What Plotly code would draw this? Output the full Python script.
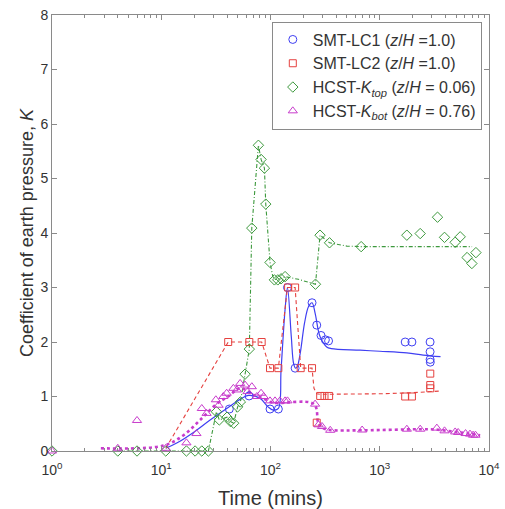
import plotly.graph_objects as go

# ---- measured points ----
# SMT-LC1 (z/H = 1.0)
lc1_t = [42, 63.7, 99, 118, 143, 168, 240, 265, 290, 318, 340, 1710, 1970, 2890, 2890, 2890, 2900]
lc1_k = [0.77, 1.01, 0.77, 0.77, 3.0, 1.52, 2.72, 2.31, 2.12, 2.04, 2.02, 2.0, 2.0, 2.0, 1.82, 1.68, 1.63]

# SMT-LC2 (z/H = 1.0)
lc2_t = [41, 64, 83, 99, 118, 145, 168, 189, 240, 265, 285, 312, 344, 1710, 1970, 2900, 2900, 2900]
lc2_k = [2.0, 2.0, 2.0, 1.52, 1.52, 3.0, 3.0, 1.52, 1.52, 0.52, 1.01, 1.01, 1.01, 1.0, 1.0, 1.42, 1.21, 1.15]

# HCST K_top (z/H = 0.06)
top_t = [1, 4, 6, 11, 17, 20.4, 23.5, 27, 32, 34, 40, 43, 46, 50, 53, 58.5, 64, 67.4, 77.5, 82, 88,
         90.5, 99, 108.6, 116.6, 125, 136, 258, 284, 347, 676, 1770, 2345, 3380, 3915, 4900, 5450,
         6300, 6970, 7590]
top_k = [0, 0, 0, 0, 0, 0, 0, 0, 0.72, 0.57, 0.62, 0.54, 0.51, 0.81, 0.9, 1.41, 1.87, 4.09, 5.61, 5.35, 5.19,
         4.53, 3.46, 3.14, 3.14, 3.16, 3.2, 3.06, 3.96, 3.82, 3.75, 3.96, 3.99, 4.29, 3.92, 3.83, 3.93,
         3.55, 3.44, 3.64]

# HCST K_bot (z/H = 0.76)
bot_t = [1, 4, 6, 11, 17, 21, 23.5, 26, 31.6, 33.5, 37, 39.7, 45.7, 49.3, 52.7, 58.5, 61.6, 67.5, 75, 82,
         86.6, 99, 110, 122, 136, 143, 256, 275, 296, 352, 690, 1770, 2345, 3330, 3915, 4900, 5220, 6100,
         6700, 7150, 7520]
bot_k = [0, 0.05, 0.56, 0.05, 0.15, 0.32, 0.78, 0.69, 0.94, 0.84, 1.0, 1.06, 1.15, 1.12, 1.24, 1.21, 1.09,
         1.18, 1.0, 1.06, 1.0, 0.92, 0.92, 0.92, 0.92, 0.92, 0.86, 0.48, 0.45, 0.38, 0.385, 0.4, 0.4, 0.42,
         0.37, 0.35, 0.34, 0.32, 0.31, 0.29, 0.29]

# ---- trend lines ----
lc1_fit_t = [11, 14, 20, 28, 41, 55, 63, 80, 95, 106, 118, 125, 136, 143, 155, 163, 170, 176, 187, 205,
             223, 240, 256, 284, 327, 360, 660, 1000, 1770, 2500, 3600]
lc1_fit_k = [0.05, 0.15, 0.35, 0.57, 0.8, 0.97, 1.02, 0.97, 0.81, 0.75, 0.78, 1.5, 2.6, 3.0, 2.1, 1.6, 1.52,
             1.55, 1.79, 2.35, 2.65, 2.72, 2.53, 2.1, 1.91, 1.88, 1.85, 1.83, 1.8, 1.76, 1.73]

lc2_fit_t = [11, 41, 64, 83, 99, 118, 143, 168, 189, 240, 250, 265, 285, 400, 1000, 2000, 3600]
lc2_fit_k = [0.05, 2.0, 2.0, 2.0, 1.52, 1.52, 3.0, 3.0, 1.52, 1.52, 1.15, 1.05, 1.04, 1.04, 1.05, 1.07, 1.1]

top_fit_t = [4, 27, 32, 34, 40, 43, 46, 50, 53, 58.5, 64, 67.4, 77.5, 82, 88, 90.5, 99, 105, 110, 125,
             136, 180, 258, 284, 347, 500, 676, 7000]
top_fit_k = [0, 0, 0.72, 0.57, 0.62, 0.54, 0.51, 0.81, 0.9, 1.41, 1.87, 4.09, 5.61, 5.35, 5.19, 4.53, 3.46,
             3.2, 3.15, 3.16, 3.2, 3.15, 3.06, 3.96, 3.82, 3.76, 3.75, 3.75]

bot_fit_t = [2.8, 10.5, 16, 22.7, 32.4, 41, 52, 60, 70, 85, 100, 114, 250, 275, 303, 350, 700, 2700, 3400,
             5000, 8300]
bot_fit_k = [0.05, 0.1, 0.29, 0.57, 0.87, 1.0, 1.15, 1.12, 1.03, 0.97, 0.9, 0.88, 0.86, 0.5, 0.42, 0.385,
             0.38, 0.4, 0.39, 0.35, 0.29]

x_tickvals = [1, 10, 100, 1000, 10000]
x_ticktext = ["10<sup>0</sup>", "10<sup>1</sup>", "10<sup>2</sup>", "10<sup>3</sup>", "10<sup>4</sup>"]
y_tickvals = [0, 1, 2, 3, 4, 5, 6, 7, 8]

BLUE = "#3f3ff2"
RED = "#e5413f"
GREEN = "#3d993d"
MAG = "#c83ccc"
FONT = "Liberation Sans, Arial, sans-serif"
AXC = "#8a8a8a"
TXT = "#333333"

fig = go.Figure()

# trend lines (not in legend)
fig.add_trace(go.Scatter(x=lc1_fit_t, y=lc1_fit_k, mode="lines", showlegend=False,
                         line=dict(color=BLUE, width=1.2), line_shape="spline"))
fig.add_trace(go.Scatter(x=lc2_fit_t, y=lc2_fit_k, mode="lines", showlegend=False,
                         line=dict(color=RED, width=1.1, dash="4px,3px")))
fig.add_trace(go.Scatter(x=top_fit_t, y=top_fit_k, mode="lines", showlegend=False,
                         line=dict(color=GREEN, width=1.1, dash="4px,2px,1px,2px")))
fig.add_trace(go.Scatter(x=bot_fit_t, y=bot_fit_k, mode="lines", showlegend=False,
                         line=dict(color=MAG, width=2.6, dash="dot"), line_shape="spline"))

# measured markers
fig.add_trace(go.Scatter(x=lc1_t, y=lc1_k, mode="markers", cliponaxis=False,
                         name="SMT-LC1 (<i>z</i>/<i>H</i> =1.0)",
                         marker=dict(symbol="circle-open", size=8, color=BLUE, line=dict(width=1))))
fig.add_trace(go.Scatter(x=lc2_t, y=lc2_k, mode="markers", cliponaxis=False,
                         name="SMT-LC2 (<i>z</i>/<i>H</i> =1.0)",
                         marker=dict(symbol="square-open", size=7, color=RED, line=dict(width=1))))
fig.add_trace(go.Scatter(x=top_t, y=top_k, mode="markers", cliponaxis=False,
                         name="HCST-<i>K</i><sub><i>top</i></sub> (<i>z</i>/<i>H</i> = 0.06)",
                         marker=dict(symbol="diamond-open", size=8, color=GREEN, line=dict(width=1))))
fig.add_trace(go.Scatter(x=bot_t, y=bot_k, mode="markers", cliponaxis=False,
                         name="HCST-<i>K</i><sub><i>bot</i></sub> (<i>z</i>/<i>H</i> = 0.76)",
                         marker=dict(symbol="triangle-up-open", size=8, color=MAG, line=dict(width=1))))

axis_common = dict(showline=True, linecolor=AXC, linewidth=1, mirror="allticks",
                   ticks="inside", ticklen=5, tickcolor=AXC, showgrid=False, zeroline=False,
                   tickfont=dict(family=FONT, size=14, color=TXT))

fig.update_xaxes(type="log", range=[0, 4], tickvals=x_tickvals, ticktext=x_ticktext,
                 ticklabelstandoff=6,
                 minor=dict(ticks="inside", ticklen=3, tickcolor=AXC, dtick="D1", showgrid=False),
                 title=dict(text="Time (mins)", font=dict(family=FONT, size=20, color=TXT), standoff=14),
                 **axis_common)
fig.update_yaxes(range=[0, 8], tickvals=y_tickvals,
                 title=dict(text="Coefficient of earth pressure, <i>K</i>",
                            font=dict(family=FONT, size=18, color=TXT), standoff=2),
                 **axis_common)

fig.update_layout(
    width=505, height=509,
    margin=dict(l=52, r=16, t=15, b=58, autoexpand=False),
    paper_bgcolor="white", plot_bgcolor="white",
    legend=dict(x=0.503, y=0.985, xanchor="left", yanchor="top",
                bgcolor="white", bordercolor=AXC, borderwidth=1,
                font=dict(family=FONT, size=16, color=TXT),
                tracegroupgap=0, itemwidth=30),
    font=dict(family=FONT),
)

fig.write_html("out.html")
